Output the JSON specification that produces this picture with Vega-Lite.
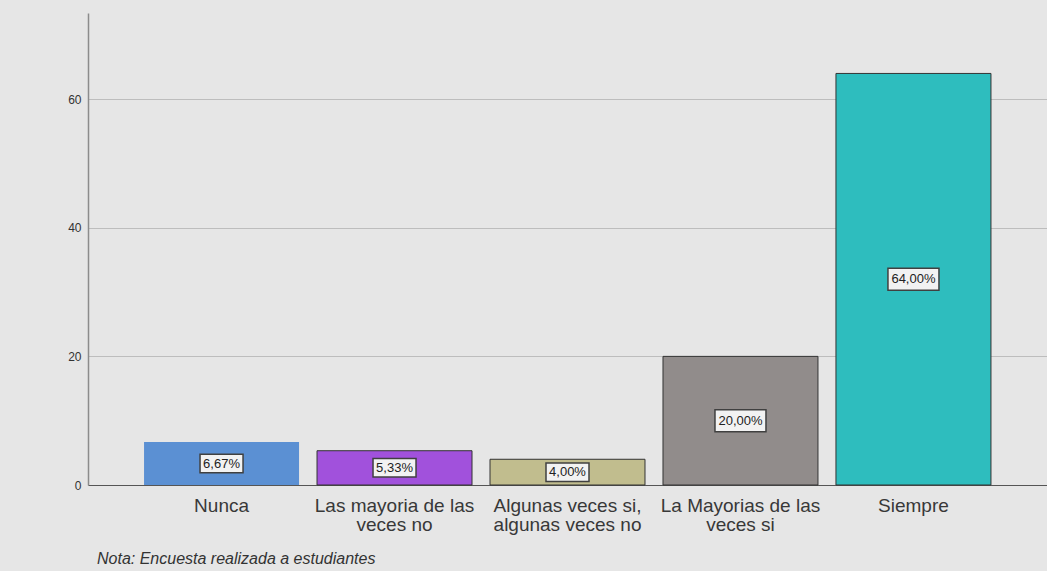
{
  "$schema": "https://vega.github.io/schema/vega-lite/v6.json",
  "autosize": "none",
  "width": 959,
  "height": 472,
  "padding": {"left": 88, "top": 13, "right": 0, "bottom": 86},
  "background": "#e6e6e6",
  "config": {
    "font": "Liberation Sans",
    "view": {"stroke": null},
    "title": {"font": "Liberation Sans"}
  },
  "title": {
    "text": "Nota: Encuesta realizada a estudiantes",
    "orient": "bottom",
    "anchor": "start",
    "frame": "group",
    "fontSize": 16,
    "fontStyle": "italic",
    "fontWeight": "normal",
    "color": "#333333",
    "dx": 9,
    "offset": 17
  },
  "data": {
    "values": [
      {"cat": "Nunca", "value": 6.67, "label": "6,67%"},
      {"cat": "Las mayoria de las|veces no", "value": 5.33, "label": "5,33%"},
      {"cat": "Algunas veces si,|algunas veces no", "value": 4.0, "label": "4,00%"},
      {"cat": "La Mayorias de las|veces si", "value": 20.0, "label": "20,00%"},
      {"cat": "Siempre", "value": 64.0, "label": "64,00%"}
    ]
  },
  "transform": [
    {"calculate": "datum.value / 2", "as": "mid"},
    {"calculate": "length(datum.label)", "as": "labelLen"}
  ],
  "encoding": {
    "x": {
      "field": "cat",
      "type": "nominal",
      "sort": null,
      "scale": {"paddingInner": 0.104, "paddingOuter": 0.324},
      "axis": {
        "title": null,
        "labelAngle": 0,
        "labelExpr": "split(datum.label, '|')",
        "labelFontSize": 19,
        "labelLineHeight": 19,
        "labelColor": "#383838",
        "labelPadding": 11,
        "ticks": false,
        "domainColor": "#555555",
        "domainWidth": 1.2,
        "labelLimit": 300
      }
    }
  },
  "layer": [
    {
      "mark": {"type": "bar", "stroke": "#333333", "strokeWidth": 1},
      "encoding": {
        "y": {
          "field": "value",
          "type": "quantitative",
          "scale": {"domain": [0, 73.4], "nice": false},
          "axis": {
            "title": null,
            "values": [0, 20, 40, 60],
            "ticks": false,
            "labelPadding": 7,
            "labelFontSize": 12,
            "labelColor": "#333333",
            "grid": true,
            "gridColor": "#bdbdbd",
            "gridWidth": 1.2,
            "domainColor": "#8c8c8c",
            "domainWidth": 1.5
          }
        },
        "color": {
          "field": "cat",
          "type": "nominal",
          "sort": null,
          "scale": {"range": ["#5b90d3", "#a151dc", "#c1bd8e", "#918c8b", "#2ebdbe"]},
          "legend": null
        },
        "strokeOpacity": {"condition": {"test": "datum.cat === 'Nunca'", "value": 0}, "value": 1}
      }
    },
    {
      "mark": {
        "type": "point",
        "shape": "M-1,-0.43L1,-0.43L1,0.43L-1,0.43Z",
        "filled": true,
        "fill": "#f2f2f2",
        "fillOpacity": 1,
        "stroke": "#404040",
        "strokeWidth": 1.5,
        "opacity": 1
      },
      "encoding": {
        "y": {"field": "mid", "type": "quantitative", "scale": {"domain": [0, 73.4], "nice": false}},
        "size": {
          "field": "labelLen",
          "type": "quantitative",
          "scale": {"domain": [5, 6], "range": [1849, 2601], "zero": false},
          "legend": null
        }
      }
    },
    {
      "mark": {"type": "text", "fontSize": 13, "color": "#222222", "baseline": "middle", "align": "center"},
      "encoding": {
        "y": {"field": "mid", "type": "quantitative", "scale": {"domain": [0, 73.4], "nice": false}},
        "text": {"field": "label", "type": "nominal"}
      }
    }
  ]
}
